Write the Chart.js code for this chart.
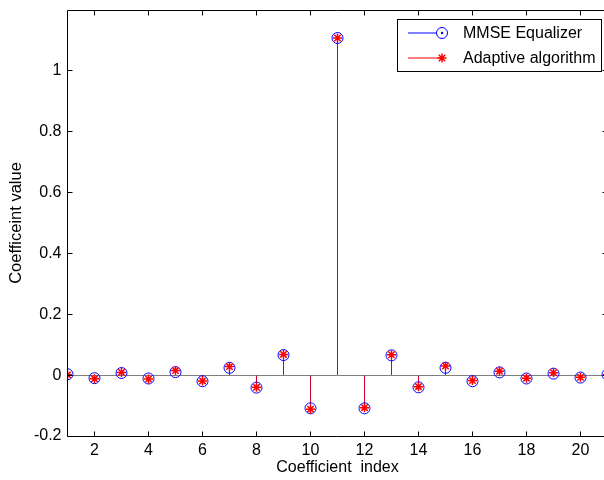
<!DOCTYPE html>
<html>
<head>
<meta charset="utf-8">
<script src="https://cdn.jsdelivr.net/npm/chart.js@4.4.1/dist/chart.umd.min.js"></script>
<style>
  html, body { margin: 0; padding: 0; background: #fff; overflow: hidden; }
  #wrap { width: 620px; height: 480px; }
</style>
</head>
<body>
<div id="wrap"><canvas id="stemchart" width="620" height="480"></canvas></div>
<script>
// equalizer taps
const taps = [1, 2, 3, 4, 5, 6, 7, 8, 9, 10, 11, 12, 13, 14, 15, 16, 17, 18, 19, 20, 21];
const mmse = [0.003, -0.010, 0.007, -0.011, 0.010, -0.020, 0.024, -0.041, 0.066, -0.109, 1.108,
              -0.109, 0.065, -0.040, 0.024, -0.020, 0.009, -0.011, 0.005, -0.008, 0.002];
const adaptive = [0.001, -0.012, 0.009, -0.013, 0.015, -0.019, 0.028, -0.040, 0.068, -0.112, 1.108,
                  -0.107, 0.067, -0.038, 0.030, -0.018, 0.013, -0.010, 0.008, -0.007, 0.001];
const xTicks = [2, 4, 6, 8, 10, 12, 14, 16, 18, 20];
const yTicks = [-0.2, 0, 0.2, 0.4, 0.6, 0.8, 1];
const seriesNames = ['MMSE Equalizer', 'Adaptive algorithm'];

const FONT = '"Liberation Sans", Arial, Helvetica, sans-serif';
const BLUE = 'rgb(0,0,255)';
const RED = 'rgb(255,0,0)';

const pts = vals => taps.map((t, i) => ({ x: t, y: vals[i] }));

// inward tick marks, box and legend like a matlab axes
const axesBox = {
  id: 'axesBox',
  afterDraw(chart) {
    const { ctx, chartArea: a, scales: { x, y } } = chart;
    const L = Math.floor(a.left) + 0.5, T = Math.floor(a.top) + 0.5;
    const B = Math.floor(a.bottom) + 0.5, R = Math.floor(a.right) + 0.5;
    ctx.save();
    ctx.strokeStyle = '#000';
    ctx.lineWidth = 1;
    ctx.beginPath();
    ctx.rect(L, T, R - L, B - T);
    xTicks.forEach(v => {
      const px = Math.floor(x.getPixelForValue(v)) + 0.5;
      ctx.moveTo(px, B); ctx.lineTo(px, B - 5);
      ctx.moveTo(px, T); ctx.lineTo(px, T + 5);
    });
    yTicks.forEach(v => {
      const py = Math.floor(y.getPixelForValue(v)) + 0.5;
      ctx.moveTo(L, py); ctx.lineTo(L + 5, py);
      ctx.moveTo(R, py); ctx.lineTo(R - 5, py);
    });
    ctx.stroke();

    // legend
    const bx = 397.5, by = 19.5, bw = 204, bh = 52;
    ctx.fillStyle = '#fff';
    ctx.fillRect(bx, by, bw, bh);
    ctx.strokeRect(bx, by, bw, bh);
    const rows = [
      { y: 33, color: BLUE, style: 'circle', radius: 5.5, width: 1 },
      { y: 58, color: RED, style: 'star', radius: 4.5, width: 1.5 }
    ];
    ctx.font = '16px ' + FONT;
    ctx.textBaseline = 'middle';
    rows.forEach((r, i) => {
      ctx.strokeStyle = r.color;
      ctx.lineWidth = 1.2;
      ctx.beginPath();
      ctx.moveTo(408, r.y); ctx.lineTo(442, r.y);
      ctx.stroke();
      ctx.lineWidth = r.width;
      Chart.helpers.drawPoint(ctx, { pointStyle: r.style, radius: r.radius, borderWidth: r.width }, 442, r.y);
      if (r.style === 'circle') {
        ctx.fillStyle = r.color;
        ctx.beginPath(); ctx.arc(442, r.y, 1.2, 0, Math.PI * 2); ctx.fill();
      }
      ctx.fillStyle = '#000';
      ctx.fillText(seriesNames[i], 463, r.y + 1);
    });
    ctx.restore();
  }
};

const ctx = document.getElementById('stemchart').getContext('2d');

const stemChart = new Chart(ctx, {
  type: 'bar',
  data: {
    datasets: [
      { type: 'scatter', label: seriesNames[1], data: pts(adaptive), order: 1,
        pointStyle: 'star', pointRadius: 4.5, borderColor: RED, backgroundColor: RED,
        pointBorderWidth: 1.5 },
      { type: 'scatter', label: seriesNames[0], data: pts(mmse), order: 2,
        pointStyle: 'circle', pointRadius: 5.5, borderColor: BLUE,
        backgroundColor: 'transparent', pointBorderWidth: 1 },
      { label: 'adaptive stem', data: pts(adaptive), order: 3, grouped: false,
        barThickness: 1, inflateAmount: 0, backgroundColor: 'rgba(255,0,0,0.8)', borderWidth: 0 },
      { label: 'mmse stem', data: pts(mmse), order: 4, grouped: false,
        barThickness: 1, inflateAmount: 0, backgroundColor: BLUE, borderWidth: 0 }
    ]
  },
  options: {
    responsive: false,
    animation: false,
    layout: { padding: { left: 0, right: 12.5, top: 10, bottom: 0 } },
    plugins: { legend: { display: false }, tooltip: { enabled: false } },
    scales: {
      x: {
        type: 'linear',
        min: 1,
        max: 21,
        offset: false,
        afterBuildTicks: s => { s.ticks = xTicks.map(v => ({ value: v })); },
        afterFit: s => { s.height = 44; s.paddingLeft = 0; s.paddingRight = 0; },
        grid: { display: false, drawTicks: false },
        border: { display: false },
        ticks: { color: '#000', font: { family: FONT, size: 16 }, padding: 5, maxRotation: 0 },
        title: { display: true, text: 'Coefficient  index', color: '#000',
                 font: { family: FONT, size: 16 }, padding: { top: 0, bottom: 3 } }
      },
      y: {
        min: -0.2,
        max: 1.2,
        afterBuildTicks: s => { s.ticks = yTicks.map(v => ({ value: v })); },
        afterFit: s => { s.width = 67.5; s.paddingTop = 0; s.paddingBottom = 0; },
        grid: {
          drawTicks: false,
          lineWidth: 1,
          color: c => (c.tick && c.tick.value === 0 ? '#808080' : 'transparent')
        },
        border: { display: false },
        ticks: { color: '#000', font: { family: FONT, size: 16 }, padding: 6,
                 callback: v => String(Math.round(v * 10) / 10) },
        title: { display: true, text: 'Coefficeint value', color: '#000',
                 font: { family: FONT, size: 16.5 }, padding: { top: 7, bottom: 0 } }
      }
    }
  },
  plugins: [axesBox]
});
</script>
</body>
</html>
